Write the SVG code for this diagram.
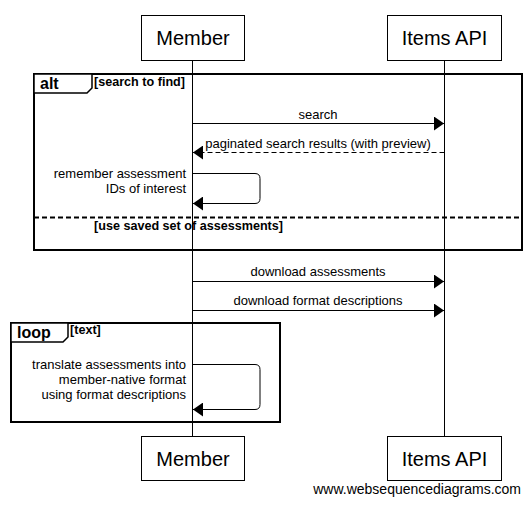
<svg xmlns="http://www.w3.org/2000/svg" width="532" height="505" viewBox="0 0 532 505">
<style>
text{font-family:"Liberation Sans",Arial,sans-serif;fill:#000}
.actor{fill:#fff;stroke:#000;stroke-width:1}
.aname{font-size:20px;text-anchor:middle}
.life{stroke:#000;stroke-width:1;fill:none}
.msg{stroke:#000;stroke-width:1;fill:none}
.dash{stroke-dasharray:5 3}
.lbl{font-size:13px;text-anchor:middle}
.slbl{font-size:13px;text-anchor:end}
.frame{fill:none;stroke:#000;stroke-width:2}
.tab{fill:#fff;stroke:#000;stroke-width:1.5}
.ftitle{font-size:16px;font-weight:bold}
.guard{font-size:12.6px;font-weight:bold}
.wm{font-size:14px;text-anchor:end}
</style>
<defs>
<marker id="arr" viewBox="0 0 10 14" refX="10" refY="7" markerWidth="10" markerHeight="14" markerUnits="userSpaceOnUse" orient="auto">
<path d="M0,0 L10,7 L0,14 z" fill="#000"/>
</marker>
</defs>
<rect width="532" height="505" fill="#fff"/>
<g id="lifelines">
<line class="life" x1="192.5" y1="60.5" x2="192.5" y2="436.5"/>
<line class="life" x1="444.5" y1="60.5" x2="444.5" y2="436.5"/>
</g>
<g id="frame-alt">
<rect class="frame" x="34" y="74" width="488" height="176"/>
<path class="tab" d="M34,74 H92 V88 L87,93 H34 Z"/>
<text class="ftitle" x="40" y="89">alt</text>
<text class="guard" x="94" y="86">[search to find]</text>
<line x1="34" y1="217.5" x2="522" y2="217.5" stroke="#000" stroke-width="2" stroke-dasharray="5 3"/>
<text class="guard" x="94" y="230">[use saved set of assessments]</text>
</g>
<g id="frame-loop">
<rect class="frame" x="11" y="323" width="269" height="99"/>
<path class="tab" d="M11,323 H68 V337 L63,342 H11 Z"/>
<text class="ftitle" x="17" y="338">loop</text>
<text class="guard" x="70" y="334">[text]</text>
</g>
<g id="connectors">
<line class="msg" x1="192.5" y1="123.5" x2="444" y2="123.5" marker-end="url(#arr)"/>
<text class="lbl" x="318" y="119">search</text>
<line class="msg dash" x1="444.5" y1="152.5" x2="193" y2="152.5" marker-end="url(#arr)"/>
<text class="lbl" x="318" y="148">paginated search results (with preview)</text>
<path class="msg" d="M192.5,173.5 H255 Q260,173.5 260,178.5 V198.5 Q260,203.5 255,203.5 H193" marker-end="url(#arr)"/>
<text class="slbl" x="186" y="178">remember assessment</text>
<text class="slbl" x="186" y="193">IDs of interest</text>
<line class="msg" x1="192.5" y1="281.5" x2="444" y2="281.5" marker-end="url(#arr)"/>
<text class="lbl" x="318" y="276">download assessments</text>
<line class="msg" x1="192.5" y1="310.5" x2="444" y2="310.5" marker-end="url(#arr)"/>
<text class="lbl" x="318" y="305">download format descriptions</text>
<path class="msg" d="M192.5,364.5 H255 Q260,364.5 260,369.5 V404.5 Q260,409.5 255,409.5 H193" marker-end="url(#arr)"/>
<text class="slbl" x="186" y="369">translate assessments into</text>
<text class="slbl" x="186" y="384">member-native format</text>
<text class="slbl" x="186" y="399">using format descriptions</text>
</g>
<g id="member-top">
<rect class="actor" x="141.5" y="15.5" width="103" height="45"/>
<text class="aname" x="193" y="45">Member</text>
</g>
<g id="items-top">
<rect class="actor" x="387.5" y="15.5" width="114" height="45"/>
<text class="aname" x="444.5" y="45">Items API</text>
</g>
<g id="member-bottom">
<rect class="actor" x="141.5" y="436.5" width="103" height="44"/>
<text class="aname" x="193" y="466">Member</text>
</g>
<g id="items-bottom">
<rect class="actor" x="387.5" y="436.5" width="114" height="44"/>
<text class="aname" x="444.5" y="466">Items API</text>
</g>
<text class="wm" x="521" y="494">www.websequencediagrams.com</text>
</svg>
